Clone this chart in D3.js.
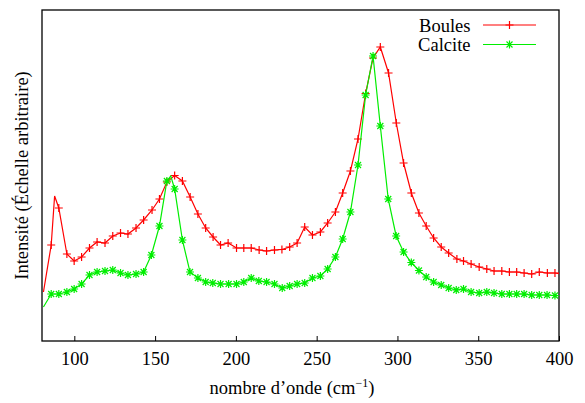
<!DOCTYPE html>
<html><head><meta charset="utf-8">
<script src="https://cdn.jsdelivr.net/npm/d3@7"></script>
<style>html,body{margin:0;padding:0;background:#fff}svg{display:block}text{font-family:"Liberation Serif","Times New Roman",serif}</style>
</head><body>
<script>
// ---- data (wavenumber cm^-1, intensity arbitrary units) ----
const xTicks = [100, 150, 200, 250, 300, 350, 400];
const seriesNames = ["Boules", "Calcite"];
const boulesX = [80.9,85.7,87.8,90.4,95.4,99.9,104.5,109.4,114.1,119.0,123.8,128.6,133.2,138.2,142.9,148.1,152.7,157.3,162.1,166.9,171.7,176.5,181.3,185.9,190.5,195.2,200.4,204.9,209.5,214.4,219.0,223.9,228.5,233.3,237.9,242.6,247.4,252.3,256.8,261.6,266.1,270.9,275.6,280.3,284.9,289.4,294.5,299.3,303.8,308.6,313.3,317.8,322.4,327.1,331.7,336.8,340.9,345.6,350.6,355.3,359.8,364.6,369.3,373.8,378.4,383.1,387.8,392.8,397.5,402.2];
const boulesY = [49,96,145,133,87,80,84,93,99,98,105,108,107,113,121,131,142,159,165.5,160,144,127,113,104,96,98,93,93,93,91,90,91,91.5,94,98,114,106,109,118,129,148,170,202,247.5,283,294,268,218,178,148,128,115,103,94,88,82,80,77,74,72,70,70,69,69,68,67,69,68,68,67];
const calciteX = [80.9,85.7,90.4,95.4,99.9,104.5,109.4,114.1,119.0,123.8,128.6,133.2,138.2,142.9,147.7,152.7,157.3,159.7,162.1,166.9,171.6,176.5,181.3,185.7,190.5,195.5,200.4,204.9,209.5,214.2,219.0,223.9,228.7,233.3,237.9,242.6,247.4,252.3,256.8,261.6,266.1,270.9,275.6,280.3,284.9,289.4,294.3,299.2,303.8,308.6,313.3,317.8,322.4,327.1,331.7,336.4,340.9,345.6,350.6,355.3,359.8,364.6,369.3,373.8,378.4,383.1,387.8,392.6,397.5,402.2];
const calciteY = [34,47,47,49,52,57,66,69,70,71,68,66,67,69,86,115,160,165,152,101,69,63,59,58,57,57,57,59,63,60,59,57,53,55,57,58,63,65,72,84,102,129,176,246,285,215,142,105,89,78.5,70.5,64,59,56,53,51,52,49,48,49,48,47,47,47,47,46,46,46,45.5,45];
// intermediate samples drawn on the line only (no point symbol), as in the source plot
const boulesUnmarkedX = [80.9, 87.8, 402.2];
const calciteUnmarkedX = [80.9, 159.7, 402.2];
const xLabel = "nombre d’onde (cm";
const xLabelSup = "−1";
const yLabel = "Intensité (Échelle arbitraire)";

const W = 585, H = 403;
const m = {left: 42, right: 26, top: 10, bottom: 62};
const svg = d3.select("body").append("svg").attr("width", W).attr("height", H);

const x = d3.scaleLinear().domain([80, 400]).range([m.left, W - m.right]);
const y = d3.scaleLinear().domain([0, 331]).range([H - m.bottom, m.top]);

svg.append("defs").append("clipPath").attr("id", "clip")
  .append("rect").attr("x", m.left).attr("y", m.top)
  .attr("width", W - m.left - m.right).attr("height", H - m.top - m.bottom);

// x axis ticks + labels
const xAxis = d3.axisBottom(x).tickValues(xTicks).tickSize(-5).tickSizeOuter(0).tickPadding(11);
const gx = svg.append("g").attr("transform", `translate(0,${H - m.bottom})`).call(xAxis);
gx.select(".domain").remove();
gx.selectAll(".tick line").attr("stroke", "#000").attr("stroke-width", 1);
gx.selectAll("text").attr("font-size", 18.5).attr("fill", "#000")
  .attr("font-family", "Liberation Serif, serif");

// frame
svg.append("rect").attr("x", m.left).attr("y", m.top)
  .attr("width", W - m.left - m.right).attr("height", H - m.top - m.bottom)
  .attr("fill", "none").attr("stroke", "#000").attr("stroke-width", 1.3);

const series = [
  {name: seriesNames[0], xs: boulesX, ys: boulesY, skip: boulesUnmarkedX, color: "#ff0000", marker: "plus"},
  {name: seriesNames[1], xs: calciteX, ys: calciteY, skip: calciteUnmarkedX, color: "#00ee00", marker: "star"}
];

function markerPath(type, cx, cy) {
  const r = 4;
  let p = `M${cx - r},${cy}H${cx + r}M${cx},${cy - r}V${cy + r}`;
  if (type === "star") {
    const d = r * 0.75;
    p += `M${cx - d},${cy - d}L${cx + d},${cy + d}M${cx - d},${cy + d}L${cx + d},${cy - d}`;
  }
  return p;
}

const plot = svg.append("g").attr("clip-path", "url(#clip)");
const line = d3.line().x(d => x(d[0])).y(d => y(d[1]));
series.forEach(s => {
  const pts = s.xs.map((v, i) => [v, s.ys[i]]);
  plot.append("path").datum(pts).attr("d", line)
    .attr("fill", "none").attr("stroke", s.color).attr("stroke-width", 1.2);
  plot.append("path")
    .attr("d", pts.filter(p => !s.skip.includes(p[0]))
      .map(p => markerPath(s.marker, x(p[0]), y(p[1]))).join(""))
    .attr("fill", "none").attr("stroke", s.color).attr("stroke-width", 1.2);
});

// legend
const lg = svg.append("g");
series.forEach((s, i) => {
  const ly = 25 + i * 19.5;
  lg.append("text").attr("x", 470.5).attr("y", ly + 6.5).attr("text-anchor", "end")
    .attr("font-size", 18.5).attr("fill", "#000").text(s.name);
  lg.append("line").attr("x1", 483).attr("x2", 536).attr("y1", ly).attr("y2", ly)
    .attr("stroke", s.color).attr("stroke-width", 1.2);
  lg.append("path").attr("d", markerPath(s.marker, 509.5, ly))
    .attr("fill", "none").attr("stroke", s.color).attr("stroke-width", 1.2);
});

// axis titles
const xt = svg.append("text").attr("x", 292).attr("y", 394).attr("text-anchor", "middle")
  .attr("font-size", 18.5).attr("fill", "#000");
xt.append("tspan").text(xLabel);
xt.append("tspan").attr("font-size", 12).attr("dy", -7).text(xLabelSup);
xt.append("tspan").attr("dy", 7).text(")");

svg.append("text").attr("transform", `translate(28,${(m.top + H - m.bottom) / 2}) rotate(-90)`)
  .attr("text-anchor", "middle").attr("font-size", 18.5).attr("fill", "#000").text(yLabel);
</script>
</body></html>
